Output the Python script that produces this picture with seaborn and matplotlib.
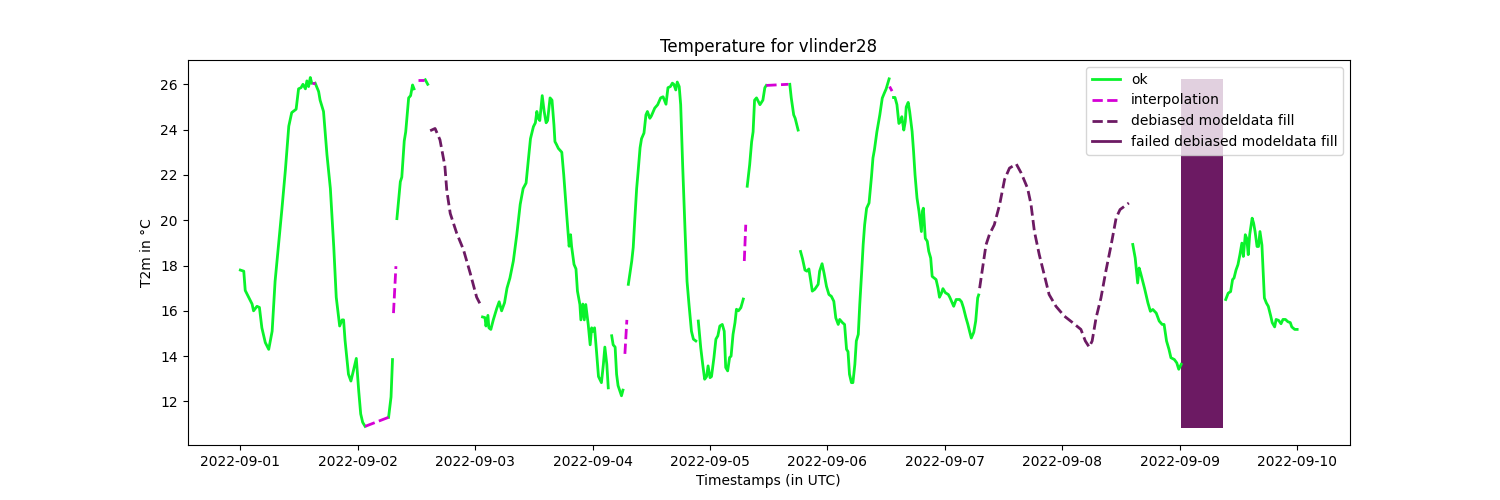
import matplotlib
matplotlib.use("Agg")
import matplotlib.pyplot as plt
import matplotlib.dates as mdates
from matplotlib.lines import Line2D
import numpy as np
import pandas as pd
import seaborn as sns

"""------------------------------- DATA ---------------------------------"""
# hours since 2022-09-01 00:00 UTC, NaN = break in the line
nan = np.nan
start = pd.Timestamp("2022-09-01 00:00")

ok_hours = [0, 0.7, 1.0, 1.7, 2.4, 2.7, 3.4, 3.9, 4.4, 5.1, 5.8, 6.5, 7.1, 7.8, 8.5, 9.2, 9.9, 10.5, 11.4, 11.9,
            12.4, 12.8, 13.3, 13.6, 13.95, 14.3, 14.6, nan,
            15.3, 16.0, 16.3, 17.0, 17.7, 18.4, 19.1, 19.6, 20.3, 20.8, 21.1, 21.4, 22.1, 22.6, 23.1, 23.7, 24.2,
            24.6, 25.0, 25.5, nan,
            30.3, 30.8, 31.1, nan,
            32.0, 32.7, 33.0, 33.5, 33.8, 34.4, 34.8, 35.2, 35.5, nan,
            37.8, 38.3, nan,
            49.5, 50.0, 50.2, 50.6, 50.8, 51.2, 51.7, 52.4, 52.9, 53.4, 54.0, 54.5, 55.1, 55.8, 56.5, 57.2, 57.8,
            58.4, 58.9, 59.3, 59.9, 60.3, 60.6, 60.9, 61.2, 61.7, 62.1, 62.5, 62.8, 63.3, 63.7, 64.1, 64.3, 64.6,
            65.0, 65.7, 66.1, 66.7, 67.2, 67.5, 67.7, 68.2, 68.6, 68.9, 69.4, 69.6, 70.0, 70.3, 70.6, 71.1, 71.5,
            71.8, 72.1, 72.4, 72.8, 73.2, 73.8, 74.2, 74.5, 74.9, 75.2, nan,
            75.9, 76.2, 76.6, 76.9, 77.2, 77.9, 78.2, nan,
            79.3, 80.0, 80.3, 80.6, 81.0, 81.3, 81.7, 82.0, 82.5, 82.9, 83.2, 83.7, 84.0, 84.7, 85.3, 85.9, 86.4,
            87.0, 87.4, 87.9, 88.3, 88.6, 89.0, 89.3, 89.7, 90.0, 90.4, 90.9, 91.3, 91.7, 92.2, 92.6, 93.1, nan,
            93.6, 94.1, 94.5, 94.9, 95.3, 95.6, 96.0, 96.3, 96.8, 97.2, 97.6, 98.0, 98.5, 98.9, 99.2, 99.6, 100.0,
            100.3, 100.7, 101.1, 101.4, 101.8, 102.3, 102.8, nan,
            103.6, 104.1, 104.5, 104.8, 105.1, 105.5, 106.2, 106.8, 107.2, 107.5, nan,
            112.3, 112.6, 113.1, 113.4, 114.0, nan,
            114.5, 114.9, 115.4, 115.8, 116.2, 116.6, 116.9, 117.4, 118.1, 118.4, 118.9, 119.3, 119.8, 120.3,
            120.8, 121.3, 121.7, 122.2, 122.5, 123.1, 123.5, 123.9, 124.2, 124.5, 124.9, 125.2, 125.6, 125.9,
            126.3, 126.6, 127.0, 127.3, 127.6, 128.0, 128.5, 129.0, 129.3, 129.6, 130.1, 130.7, 131.2, 131.6,
            132.0, 132.6, nan,
            133.5, 133.8, 134.2, 134.6, 134.9, 135.2, 135.4, 135.6, 135.9, 136.1, 136.5, 136.8, 137.3, 137.6,
            137.9, 138.3, 138.7, 139.2, 139.4, 139.6, 140.0, 140.4, 140.7, 141.1, 141.4, 141.8, 142.2, 142.6,
            142.9, 143.3, 143.6, 144.1, 144.7, 145.0, 145.5, 145.8, 146.3, 147.0, 147.4, 147.8, 148.3, 148.7,
            149.1, 149.4, 149.9, 150.3, 150.7, 150.9, nan,
            182.4, 182.9, 183.4, 183.7, 184.0, 184.8, 185.5, 186.0, 186.5, 187.2, 187.8, 188.4, 188.8, 189.3,
            189.8, 190.2, 190.9, 191.4, 191.8, 192.3, nan,
            201.4, 201.9, 202.4, 202.8, 203.1, 203.5, 203.9, 204.3, 204.7, 205.0, 205.4, 205.7, 206.0, 206.3,
            206.8, 207.1, 207.4, 207.8, 208.1, 208.4, 208.8, 209.3, 209.7, 210.1, 210.6, 210.9, 211.4, 211.7,
            212.2, 212.7, 213.1, 213.6, 214.1, 214.6, 214.9, 215.5, 216.0]
ok_temps = [17.8, 17.75, 16.9, 16.6, 16.3, 16.0, 16.2, 16.15, 15.25, 14.6, 14.3, 15.1, 17.3, 18.9, 20.5, 22.2,
            24.15, 24.75, 24.9, 25.8, 25.85, 26.0, 25.8, 26.15, 25.9, 26.3, 26.05, nan,
            26.05, 25.68, 25.3, 24.8, 22.9, 21.4, 18.8, 16.6, 15.33, 15.6, 15.6, 14.7, 13.2, 12.9, 13.35, 13.9,
            12.45, 11.45, 11.08, 10.9, nan,
            11.3, 12.2, 13.85, nan,
            20.07, 21.7, 21.9, 23.5, 23.9, 25.4, 25.5, 25.97, 25.8, nan,
            26.2, 26.0, nan,
            15.73, 15.7, 15.33, 15.8, 15.25, 15.18, 15.6, 16.1, 16.4, 16.0, 16.36, 17.0, 17.45, 18.2, 19.36, 20.7,
            21.4, 21.64, 22.74, 23.6, 24.13, 24.3, 24.8, 24.5, 24.4, 25.5, 24.8, 24.3, 24.4, 25.4, 25.3, 24.2,
            23.47, 23.35, 23.17, 23.0, 22.0, 20.25, 18.85, 19.36, 18.85, 18.05, 17.85, 16.87, 16.28, 15.6, 16.3,
            15.6, 16.28, 15.4, 14.5, 15.25, 15.1, 15.25, 14.2, 13.1, 12.83, 13.64, 14.4, 13.64, 12.6, nan,
            14.9, 14.5, 14.4, 13.2, 12.7, 12.25, 12.5, nan,
            17.17, 18.2, 18.8, 19.95, 21.4, 22.15, 23.2, 23.6, 23.85, 24.65, 24.8, 24.5, 24.6, 24.95, 25.1, 25.4,
            25.45, 25.12, 25.85, 25.9, 26.05, 26.0, 25.75, 26.1, 25.9, 25.1, 22.45, 19.5, 17.3, 16.28, 15.1,
            14.75, 14.67, nan,
            15.55, 14.37, 13.64, 12.98, 13.1, 13.57, 13.05, 13.1, 13.94, 14.75, 14.9, 15.33, 15.4, 15.1, 13.5,
            13.35, 13.94, 14.0, 14.96, 15.48, 16.07, 16.0, 16.14, 16.52, nan,
            21.5, 22.45, 23.46, 23.9, 25.3, 25.4, 25.1, 25.3, 25.85, 25.95, nan,
            26.0, 25.4, 24.65, 24.5, 23.98, nan,
            18.62, 18.3, 17.8, 17.75, 17.85, 17.3, 16.87, 16.95, 17.17, 17.75, 18.08, 17.67, 17.08, 16.72, 16.64,
            16.42, 15.69, 15.4, 15.62, 15.47, 15.4, 14.3, 14.2, 13.2, 12.83, 12.83, 13.64, 14.67, 14.96, 16.28,
            17.75, 18.93, 19.8, 20.53, 20.76, 21.93, 22.75, 23.11, 23.9, 24.65, 25.39, 25.6, 25.8, 26.24, nan,
            25.42, 25.42, 25.1, 24.27, 24.35, 24.57, 24.27, 23.98, 24.35, 25.0, 25.2, 24.8, 23.92, 23.03, 22.0,
            20.98, 20.4, 19.5, 20.4, 20.53, 19.2, 19.07, 18.63, 18.33, 17.52, 17.45, 17.38, 17.0, 16.6, 16.78,
            16.98, 16.8, 16.72, 16.6, 16.35, 16.2, 16.5, 16.5, 16.4, 16.13, 15.7, 15.4, 15.05, 14.8, 15.05, 15.55,
            16.57, 16.7, nan,
            18.93, 18.33, 17.23, 17.89, 17.67, 17.0, 16.35, 15.98, 16.06, 15.9, 15.55, 15.4, 15.4, 14.67, 14.3,
            13.93, 13.85, 13.7, 13.42, 13.64, nan,
            16.5, 16.78, 16.85, 17.38, 17.45, 17.8, 18.04, 18.48, 18.99, 18.4, 19.36, 19.2, 18.48, 19.36, 20.09,
            19.87, 19.5, 18.84, 18.84, 19.5, 18.9, 16.57, 16.35, 16.2, 15.77, 15.48, 15.29, 15.62, 15.58, 15.43,
            15.62, 15.62, 15.52, 15.48, 15.29, 15.18, 15.18]

interp_hours = [14.7, 15.3, nan, 25.5, 30.3, nan, 31.3, 31.8, nan, 36.4, 37.6, nan, 78.6, 79.0, nan,
                103.0, 103.3, nan, 107.5, 112.0, nan, 132.7, 133.2]
interp_temps = [26.05, 26.05, nan, 10.9, 11.3, nan, 15.9, 17.97, nan, 26.2, 26.2, nan, 14.1, 15.6, nan,
                18.2, 19.8, nan, 25.95, 26.0, nan, 25.9, 25.7]

fill_hours = [38.8, 39.8, 40.8, 41.8, 42.2, 42.9, 44.2, 45.6, 47.0, 48.3, 49.3, nan,
              151.1, 151.8, 152.4, 153.1, 154.1, 155.2, 156.2, 157.2, 158.6, 159.6, 160.9, 161.6, 162.3, 163.3,
              164.3, 165.3, 166.7, 168.4, 170.1, 171.8, 172.7, 173.5, 174.1, 174.9, 175.9, 176.9, 178.0, 179.0,
              179.8, 181.6]
fill_temps = [23.95, 24.05, 23.55, 22.4, 21.3, 20.3, 19.44, 18.7, 17.65, 16.6, 16.18, nan,
              17.0, 18.03, 18.91, 19.37, 19.8, 20.7, 21.8, 22.3, 22.48, 22.08, 21.41, 20.7, 19.5, 18.47, 17.6,
              16.72, 16.2, 15.77, 15.48, 15.18, 14.67, 14.4, 14.67, 15.69, 16.57, 17.75, 18.93, 20.1, 20.47,
              20.76]

# failed debiased modeldata fill: time window and temperature span
failed_hours = [192.3, 200.9]
failed_low = 10.85
failed_high = 26.25

colors = {"ok": "#0af22b", "interpolation": "#d500d5", "debiased modeldata fill": "#6c1a63"}
dashes = {"ok": "", "interpolation": (3.7, 1.6), "debiased modeldata fill": (3.7, 1.6)}


def to_frame(hours, temps, label):
    d = pd.DataFrame({"hours": hours, "temp": temps})
    d["seg"] = label + d["temp"].isna().cumsum().astype(str)
    d = d.dropna().copy()
    d["time"] = start + pd.to_timedelta(d["hours"], unit="h")
    d["label"] = label
    return d


df = pd.concat([to_frame(ok_hours, ok_temps, "ok"),
                to_frame(interp_hours, interp_temps, "interpolation"),
                to_frame(fill_hours, fill_temps, "debiased modeldata fill")], ignore_index=True)

"""------------------------------- PLOT ---------------------------------"""
fig, ax = plt.subplots(figsize=(15, 5), dpi=100)

sns.lineplot(data=df, x="time", y="temp", hue="label", style="label", units="seg", estimator=None,
             palette=colors, dashes=dashes, linewidth=2, legend=False, ax=ax)

failed_times = start + pd.to_timedelta(failed_hours, unit="h")
ax.fill_between(failed_times, failed_low, failed_high, color=colors["debiased modeldata fill"], lw=0)

ax.xaxis.set_major_locator(mdates.DayLocator())
ax.xaxis.set_major_formatter(mdates.DateFormatter("%Y-%m-%d"))

handles = [Line2D([], [], color=colors["ok"], lw=2),
           Line2D([], [], color=colors["interpolation"], lw=2, ls="--"),
           Line2D([], [], color=colors["debiased modeldata fill"], lw=2, ls="--"),
           Line2D([], [], color=colors["debiased modeldata fill"], lw=2)]
ax.legend(handles, ["ok", "interpolation", "debiased modeldata fill", "failed debiased modeldata fill"],
          loc="upper right")

ax.set_title("Temperature for vlinder28")
ax.set_xlabel("Timestamps (in UTC)")
ax.set_ylabel("T2m in °C")

plt.savefig("out.png")
